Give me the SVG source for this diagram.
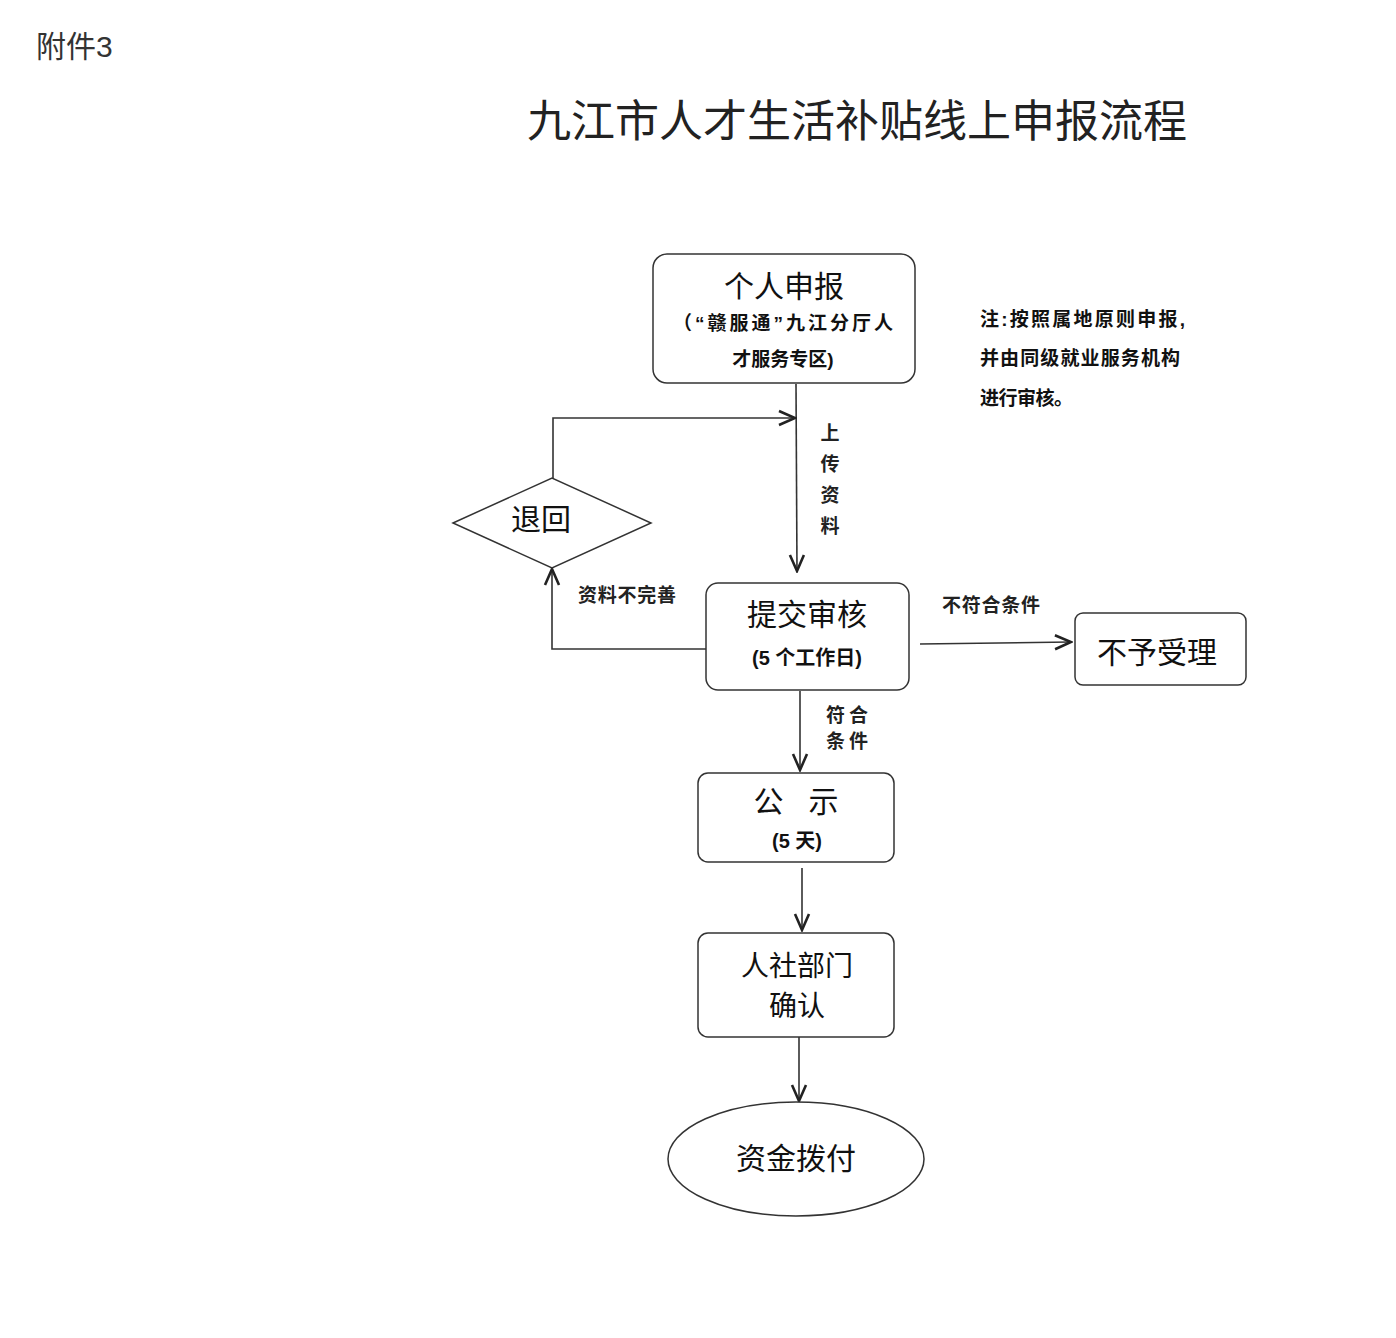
<svg xmlns="http://www.w3.org/2000/svg" width="1396" height="1338" viewBox="0 0 1396 1338">
<style>
text{font-family:"Liberation Sans","Noto Sans CJK SC",sans-serif;fill:#111;}
.box{fill:#fff;stroke:#333;stroke-width:1.5;}
.big{font-size:30px;text-anchor:middle;}
.sub{font-size:20px;font-weight:bold;text-anchor:middle;}
.lbl{font-size:19px;font-weight:bold;fill:#222;}
.note{font-size:19px;font-weight:bold;fill:#111;}
.edge{fill:none;stroke:#333;stroke-width:1.6;}
</style>
<defs>
<marker id="arr" viewBox="0 0 20 20" refX="18" refY="10" markerWidth="20" markerHeight="20" markerUnits="userSpaceOnUse" orient="auto">
<path d="M2,3 L18,10 L2,17" fill="none" stroke="#222" stroke-width="2.6"/>
</marker>
</defs>
<rect width="1396" height="1338" fill="#fff"/>
<text x="36" y="57" style="font-size:30px;fill:#333">附件3</text>
<text x="857" y="137" style="font-size:44px;text-anchor:middle;fill:#222">九江市人才生活补贴线上申报流程</text>

<g id="connectors">
<line class="edge" x1="796" y1="384" x2="797" y2="571" marker-end="url(#arr)"/>
<polyline class="edge" points="553,478 553,418 795,418" marker-end="url(#arr)"/>
<polyline class="edge" points="706,649 552,649 552,569" marker-end="url(#arr)"/>
<line class="edge" x1="920" y1="644" x2="1071" y2="642" marker-end="url(#arr)"/>
<line class="edge" x1="800" y1="691" x2="800" y2="770" marker-end="url(#arr)"/>
<line class="edge" x1="802" y1="868" x2="802" y2="930" marker-end="url(#arr)"/>
<line class="edge" x1="799" y1="1037" x2="799" y2="1101" marker-end="url(#arr)"/>
<g>
<text x="830" y="440" text-anchor="middle" class="lbl">上</text>
<text x="830" y="471" text-anchor="middle" class="lbl">传</text>
<text x="830" y="502" text-anchor="middle" class="lbl">资</text>
<text x="830" y="533" text-anchor="middle" class="lbl">料</text>
<text x="578" y="602" class="lbl" textLength="98">资料不完善</text>
<text x="942" y="612" class="lbl" textLength="98">不符合条件</text>
<text x="826" y="722" class="lbl" textLength="42">符合</text>
<text x="826" y="748" class="lbl" textLength="42">条件</text>
</g>
</g>

<g id="n-apply">
<rect class="box" x="653" y="254" width="262" height="129" rx="14"/>
<text x="784" y="297" class="big">个人申报</text>
<text x="673" y="330" class="sub" style="font-size:19px;text-anchor:start" textLength="220">（“赣服通”九江分厅人</text>
<text x="783" y="366" class="sub" style="font-size:19px">才服务专区)</text>
</g>

<g id="n-note">
<text x="980" y="326" class="note" textLength="205">注:按照属地原则申报,</text>
<text x="980" y="365" class="note" textLength="200">并由同级就业服务机构</text>
<text x="980" y="405" class="note" textLength="93">进行审核。</text>
</g>

<g id="n-return">
<polygon class="box" points="453,523 552,478 651,523 552,568"/>
<text x="541" y="530" class="big">退回</text>
</g>

<g id="n-review">
<rect class="box" x="706" y="583" width="203" height="107" rx="12"/>
<text x="807" y="625" class="big">提交审核</text>
<text x="807" y="665" class="sub">(5 个工作日)</text>
</g>

<g id="n-reject">
<rect class="box" x="1075" y="613" width="171" height="72" rx="8"/>
<text x="1157" y="663" class="big">不予受理</text>
</g>

<g id="n-publicity">
<rect class="box" x="698" y="773" width="196" height="89" rx="10"/>
<text x="796" y="812" class="big" xml:space="preserve">公   示</text>
<text x="797" y="848" class="sub">(5 天)</text>
</g>

<g id="n-confirm">
<rect class="box" x="698" y="933" width="196" height="104" rx="10"/>
<text x="797" y="976" class="big" style="font-size:28px">人社部门</text>
<text x="797" y="1016" class="big" style="font-size:28px">确认</text>
</g>

<g id="n-fund">
<ellipse class="box" cx="796" cy="1159" rx="128" ry="57"/>
<text x="796" y="1169" class="big">资金拨付</text>
</g>
</svg>
